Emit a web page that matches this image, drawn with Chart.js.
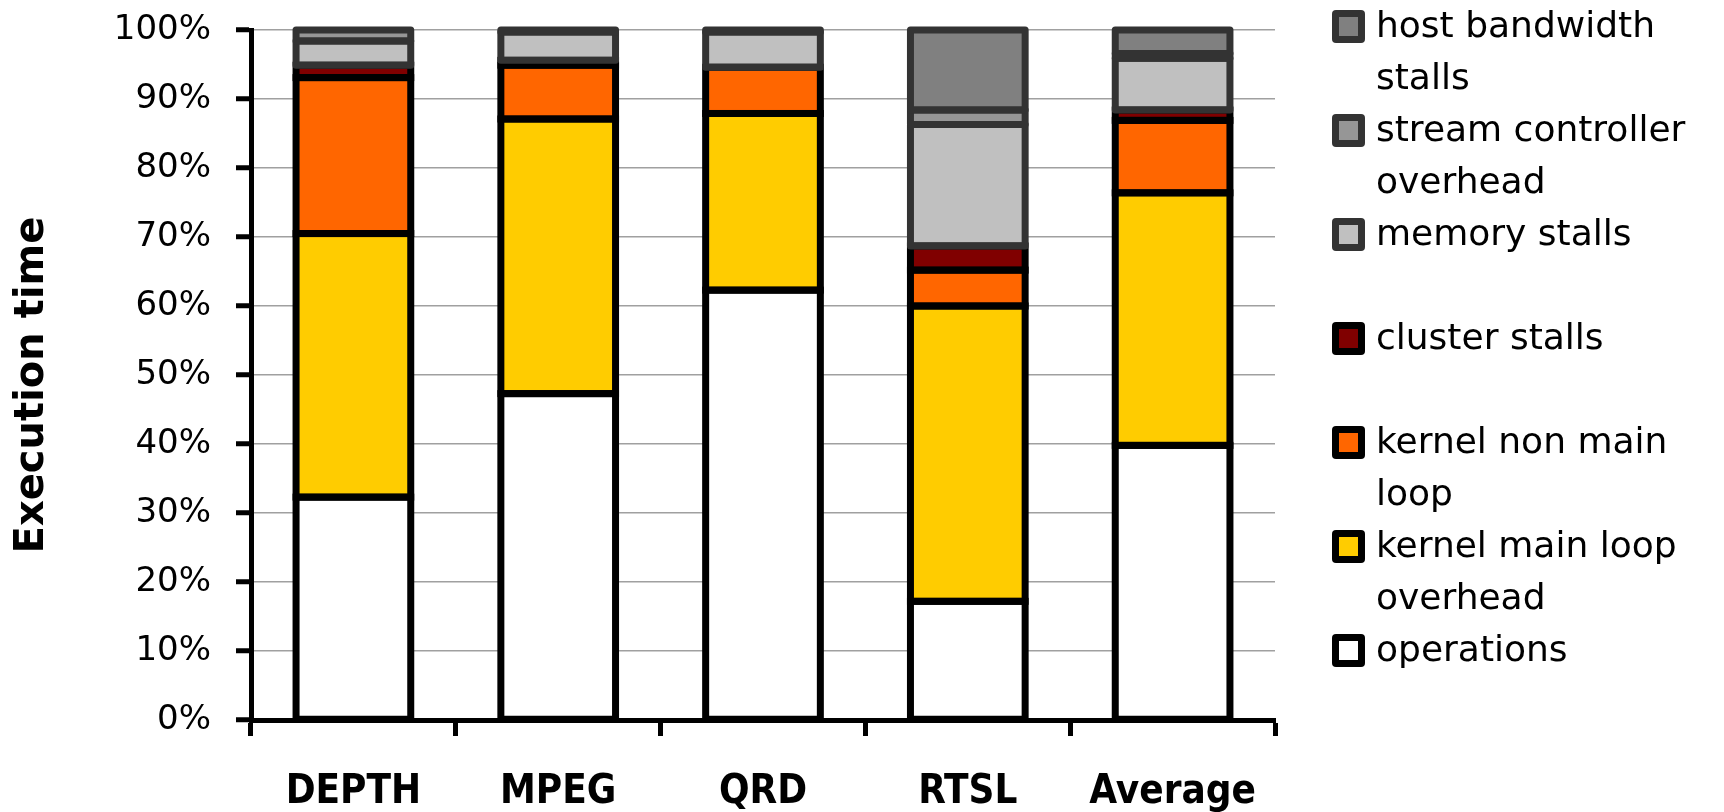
<!DOCTYPE html>
<html>
<head>
<meta charset="utf-8">
<script src="https://cdn.jsdelivr.net/npm/chart.js@4"></script>
<style>
  html, body { margin: 0; padding: 0; background: #fff; }
</style>
</head>
<body>
<canvas id="chart" width="1724" height="812"></canvas>
<script>
// benchmarks and the share of execution time (%) spent in each category
const categories = ["DEPTH", "MPEG", "QRD", "RTSL", "Average"];
const operations       = [32.3, 47.3, 62.3, 17.2, 39.8];
const kernelMainLoop   = [38.2, 39.8, 25.6, 42.8, 36.6];
const kernelNonMain    = [22.6,  7.8,  6.7,  5.2, 10.5];
const clusterStalls    = [ 1.8,  0.7,  0.0,  3.5,  1.5];
const memoryStalls     = [ 3.5,  4.1,  5.1, 17.6,  7.5];
const streamController = [ 1.6,  0.3,  0.3,  2.1,  0.7];
const hostBandwidth    = [ 0.0,  0.0,  0.0, 11.6,  3.4];

const yTicks = [0, 10, 20, 30, 40, 50, 60, 70, 80, 90, 100];
const yTitle = "Execution time";

// legend text, top entry first (wrapped like the original)
const legendLines = [
    ["host bandwidth", "stalls"],
    ["stream controller", "overhead"],
    ["memory stalls"],
    ["cluster stalls"],
    ["kernel non main", "loop"],
    ["kernel main loop", "overhead"],
    ["operations"],
];

function makeSet(label, data, fill, edge) {
    return {
        label: label,
        data: data,
        backgroundColor: fill,
        borderColor: edge,
        borderWidth: 0,
    };
}

// heavy outlines centred on each segment edge (Excel style)
const barOutlines = {
    id: "barOutlines",
    afterDatasetsDraw(chart) {
        const ctx = chart.ctx;
        ctx.save();
        ctx.lineWidth = 7;
        chart.data.datasets.forEach((ds, i) => {
            const meta = chart.getDatasetMeta(i);
            ctx.strokeStyle = ds.borderColor;
            ctx.lineJoin = ds.borderColor === "#333333" ? "round" : "miter";
            meta.data.forEach((bar, j) => {
                if (!ds.data[j]) return;
                const p = bar.getProps(["x", "y", "base", "width"], true);
                const top = Math.min(p.y, p.base);
                ctx.strokeRect(p.x - p.width / 2, top, p.width, Math.abs(p.base - p.y));
            });
        });
        ctx.restore();
    },
};

// wrapped legend on the right and the rotated y title
const sideLegend = {
    id: "sideLegend",
    afterDraw(chart) {
        const ctx = chart.ctx;
        const sets = chart.data.datasets.slice().reverse();
        ctx.save();
        ctx.font = '36px "DejaVu Sans"';
        ctx.textBaseline = "middle";
        ctx.textAlign = "left";
        sets.forEach((ds, i) => {
            const cy = 26 + i * 104;
            ctx.beginPath();
            ctx.roundRect(1332, cy - 16, 33, 33, 4);
            ctx.fillStyle = ds.borderColor;
            ctx.fill();
            ctx.fillStyle = ds.backgroundColor;
            ctx.fillRect(1339, cy - 9, 19, 19);
            ctx.fillStyle = "#000";
            legendLines[i].forEach((line, j) => {
                ctx.fillText(line, 1376, cy + 2 + j * 52);
            });
        });

        ctx.translate(33, 385);
        ctx.rotate(-Math.PI / 2);
        ctx.textAlign = "center";
        ctx.font = 'bold 40px "DejaVu Sans"';
        ctx.fillText(yTitle, 0, 0);
        ctx.restore();
    },
};

const ctx = document.getElementById("chart").getContext("2d");
new Chart(ctx, {
    type: "bar",
    data: {
        labels: categories,
        datasets: [
            makeSet("operations", operations, "#FFFFFF", "#000000"),
            makeSet("kernel main loop overhead", kernelMainLoop, "#FFCC00", "#000000"),
            makeSet("kernel non main loop", kernelNonMain, "#FF6600", "#000000"),
            makeSet("cluster stalls", clusterStalls, "#800000", "#000000"),
            makeSet("memory stalls", memoryStalls, "#C0C0C0", "#333333"),
            makeSet("stream controller overhead", streamController, "#969696", "#333333"),
            makeSet("host bandwidth stalls", hostBandwidth, "#808080", "#333333"),
        ],
    },
    options: {
        responsive: false,
        animation: false,
        devicePixelRatio: 1,
        layout: { padding: { left: 0, right: 449, top: 30, bottom: 0 } },
        datasets: {
            bar: { categoryPercentage: 1, barPercentage: 0.56 },
        },
        plugins: {
            legend: { display: false },
            tooltip: { enabled: false },
        },
        scales: {
            x: {
                stacked: true,
                grid: {
                    offset: true,
                    drawOnChartArea: false,
                    tickLength: 16,
                    tickWidth: 5,
                    tickColor: "#000",
                },
                border: { color: "#000", width: 5 },
                ticks: {
                    color: "#000",
                    padding: 33,
                    font: { family: "DejaVu Sans Condensed", weight: "bold", size: 40 },
                },
                afterFit: (scale) => { scale.height = 92; },
            },
            y: {
                stacked: true,
                min: 0,
                max: 100,
                afterBuildTicks: (scale) => {
                    scale.ticks = yTicks.map((v) => ({ value: v }));
                },
                grid: {
                    color: "#a0a0a0",
                    lineWidth: 1.5,
                    tickLength: 15,
                    tickWidth: 5,
                    tickColor: "#000",
                },
                border: { color: "#000", width: 5 },
                ticks: {
                    color: "#000",
                    padding: 25,
                    font: { family: "DejaVu Sans", size: 34 },
                    callback: (v) => v + "%",
                },
                afterFit: (scale) => {
                    scale.width = 251;
                    scale.paddingTop = 0;
                    scale.paddingBottom = 0;
                },
            },
        },
    },
    plugins: [barOutlines, sideLegend],
});
</script>
</body>
</html>
